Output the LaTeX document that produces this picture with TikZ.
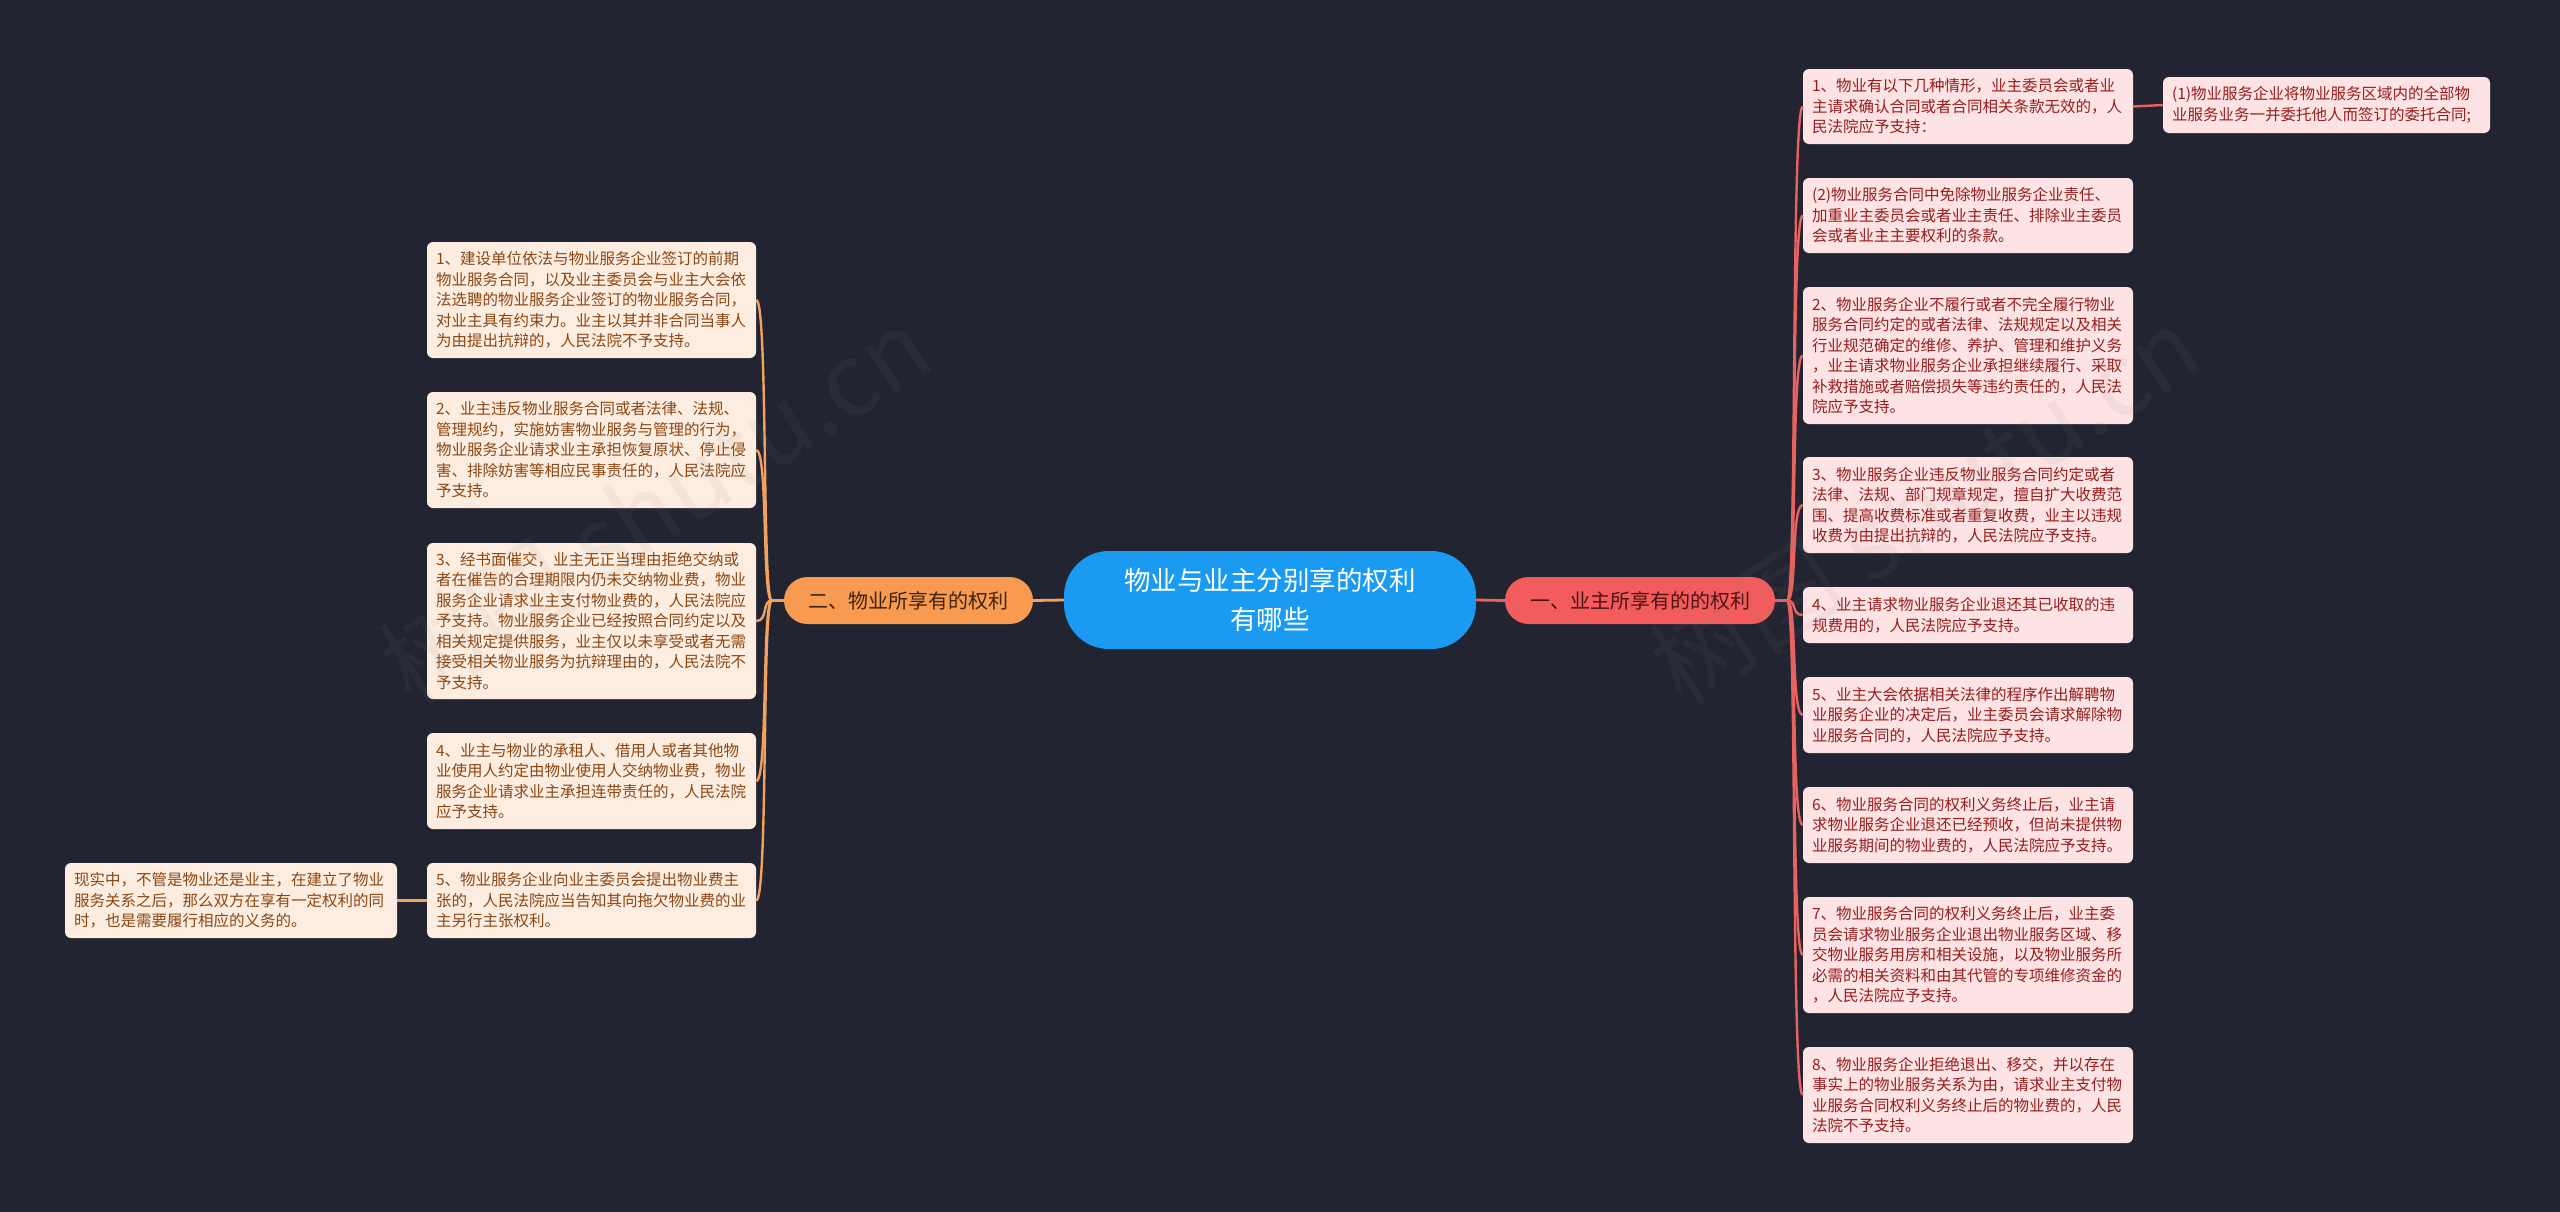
\documentclass[tikz,border=0pt]{standalone}
\usepackage{fontspec}
\setmainfont{Noto Sans CJK SC}
\definecolor{bg}{HTML}{222531}
\definecolor{rfill}{HTML}{FDE3E3}
\definecolor{rtext}{HTML}{961E1E}
\definecolor{rnode}{HTML}{F25C5C}
\definecolor{rnodetext}{HTML}{4E1212}
\definecolor{rline}{HTML}{E8625F}
\definecolor{ofill}{HTML}{FDEDE0}
\definecolor{otext}{HTML}{8A4714}
\definecolor{onode}{HTML}{F89A50}
\definecolor{onodetext}{HTML}{3E230E}
\definecolor{oline}{HTML}{F2A160}
\definecolor{cnode}{HTML}{1A9AF0}
\begin{document}
\begin{tikzpicture}[x=1pt,y=-1pt,
  boxbase/.style={rounded corners=6pt, inner xsep=9pt, inner ysep=0pt, align=left,
    font=\fontsize{15.5}{20.5}\selectfont},
  rbox/.style={boxbase, fill=rfill, text=rtext, text width=312pt},
  obox/.style={boxbase, fill=ofill, text=otext, text width=311pt},
  rcon/.style={draw=rline, line width=2.4pt},
  ocon/.style={draw=oline, line width=2.4pt},
  wmark/.style={text=gray, opacity=0.08, font=\fontsize{100}{100}\selectfont, rotate=33}
]
\useasboundingbox (0,0) rectangle (2560,1211);
\fill[bg] (-10,-10) rectangle (2570,1221);

% central and branch nodes
\node[fill=cnode, text=white, rounded corners=45pt, minimum width=412pt, minimum height=98pt,
  inner sep=0pt, align=center, font=\fontsize{26.5}{39}\selectfont] (c) at (1270,600)
  {物业与业主分别享的权利\\有哪些};
\node[fill=rnode, text=rnodetext, rounded corners=23.5pt, minimum width=270pt, minimum height=47pt,
  inner sep=0pt, font=\fontsize{20}{24}\selectfont] (red) at (1640,600.5) {一、业主所享有的的权利};
\node[fill=onode, text=onodetext, rounded corners=23.5pt, minimum width=249pt, minimum height=47pt,
  inner sep=0pt, font=\fontsize{20}{24}\selectfont] (org) at (908.5,600.5) {二、物业所享有的权利};

% right boxes
\node[rbox, minimum height=75pt] (r1) at (1968,106.5) {1、物业有以下几种情形，业主委员会或者业\\主请求确认合同或者合同相关条款无效的，人\\民法院应予支持：};
\node[rbox, text width=309pt, minimum height=56pt] (r1a) at (2326.5,105) {(1)物业服务企业将物业服务区域内的全部物\\业服务业务一并委托他人而签订的委托合同;};
\node[rbox, minimum height=75pt] (r2) at (1968,215.5) {(2)物业服务合同中免除物业服务企业责任、\\加重业主委员会或者业主责任、排除业主委员\\会或者业主主要权利的条款。};
\node[rbox, minimum height=137pt] (r3) at (1968,355.5) {2、物业服务企业不履行或者不完全履行物业\\服务合同约定的或者法律、法规规定以及相关\\行业规范确定的维修、养护、管理和维护义务\\，业主请求物业服务企业承担继续履行、采取\\补救措施或者赔偿损失等违约责任的，人民法\\院应予支持。};
\node[rbox, minimum height=96pt] (r4) at (1968,505) {3、物业服务企业违反物业服务合同约定或者\\法律、法规、部门规章规定，擅自扩大收费范\\围、提高收费标准或者重复收费，业主以违规\\收费为由提出抗辩的，人民法院应予支持。};
\node[rbox, minimum height=56pt] (r5) at (1968,615) {4、业主请求物业服务企业退还其已收取的违\\规费用的，人民法院应予支持。};
\node[rbox, minimum height=76pt] (r6) at (1968,715) {5、业主大会依据相关法律的程序作出解聘物\\业服务企业的决定后，业主委员会请求解除物\\业服务合同的，人民法院应予支持。};
\node[rbox, minimum height=76pt] (r7) at (1968,825) {6、物业服务合同的权利义务终止后，业主请\\求物业服务企业退还已经预收，但尚未提供物\\业服务期间的物业费的，人民法院应予支持。};
\node[rbox, minimum height=116pt] (r8) at (1968,955) {7、物业服务合同的权利义务终止后，业主委\\员会请求物业服务企业退出物业服务区域、移\\交物业服务用房和相关设施，以及物业服务所\\必需的相关资料和由其代管的专项维修资金的\\，人民法院应予支持。};
\node[rbox, minimum height=96pt] (r9) at (1968,1095) {8、物业服务企业拒绝退出、移交，并以存在\\事实上的物业服务关系为由，请求业主支付物\\业服务合同权利义务终止后的物业费的，人民\\法院不予支持。};

% left boxes
\node[obox, minimum height=116pt] (l1) at (591.5,300) {1、建设单位依法与物业服务企业签订的前期\\物业服务合同，以及业主委员会与业主大会依\\法选聘的物业服务企业签订的物业服务合同，\\对业主具有约束力。业主以其并非合同当事人\\为由提出抗辩的，人民法院不予支持。};
\node[obox, minimum height=116pt] (l2) at (591.5,450) {2、业主违反物业服务合同或者法律、法规、\\管理规约，实施妨害物业服务与管理的行为，\\物业服务企业请求业主承担恢复原状、停止侵\\害、排除妨害等相应民事责任的，人民法院应\\予支持。};
\node[obox, minimum height=156pt] (l3) at (591.5,621) {3、经书面催交，业主无正当理由拒绝交纳或\\者在催告的合理期限内仍未交纳物业费，物业\\服务企业请求业主支付物业费的，人民法院应\\予支持。物业服务企业已经按照合同约定以及\\相关规定提供服务，业主仅以未享受或者无需\\接受相关物业服务为抗辩理由的，人民法院不\\予支持。};
\node[obox, minimum height=96pt] (l4) at (591.5,781) {4、业主与物业的承租人、借用人或者其他物\\业使用人约定由物业使用人交纳物业费，物业\\服务企业请求业主承担连带责任的，人民法院\\应予支持。};
\node[obox, minimum height=75pt] (l5) at (591.5,900.5) {5、物业服务企业向业主委员会提出物业费主\\张的，人民法院应当告知其向拖欠物业费的业\\主另行主张权利。};
\node[obox, text width=314pt, minimum height=75pt] (leaf) at (231,900.5) {现实中，不管是物业还是业主，在建立了物业\\服务关系之后，那么双方在享有一定权利的同\\时，也是需要履行相应的义务的。};

% connectors
\draw[rcon, line width=2.8pt] (c.east) -- (red.west);
\draw[ocon, line width=2.8pt] (c.west) -- (org.east);
\foreach \n in {r1,r2,r3,r4,r5,r6,r7,r8,r9}
  \draw[rcon] (red.east) -- ++(12,0) .. controls +(10,0) and +(-12,0) .. (\n.west);
\draw[rcon] (r1.east) -- (r1a.west);
\foreach \n in {l1,l2,l3,l4,l5}
  \draw[ocon] (org.west) -- ++(-12,0) .. controls +(-10,0) and +(12,0) .. (\n.east);
\draw[ocon] (l5.west) -- (leaf.east);

% watermarks
\node[wmark] (wm1) at (655,505) {树图 shutu.cn};
\node[wmark] (wm2) at (1925,505) {树图 shutu.cn};
\end{tikzpicture}
\end{document}
